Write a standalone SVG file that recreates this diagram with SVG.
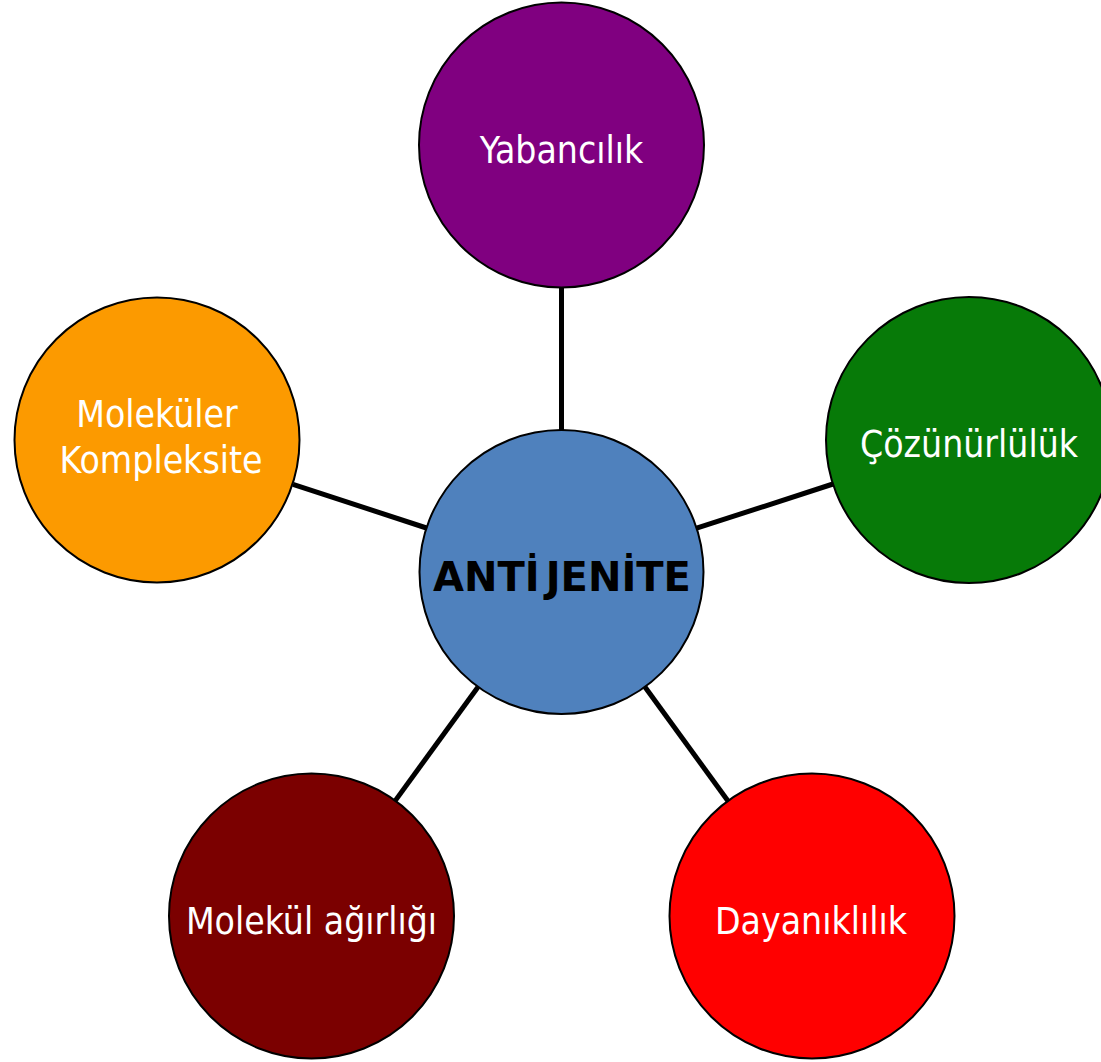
<svg xmlns="http://www.w3.org/2000/svg" width="1101" height="1062" viewBox="0 0 1101 1062">
  <style>
    .bubble { stroke: #000000; stroke-width: 2; }
    .label { fill: #ffffff; font-family: "DejaVu Sans Condensed", "DejaVu Sans", sans-serif; font-size: 37px; text-anchor: middle; }
    .hub { fill: #000000; font-family: "DejaVu Sans", Verdana, sans-serif; font-weight: bold; font-size: 40px; text-anchor: middle; }
    .link { stroke: #000000; stroke-width: 5; fill: none; }
  </style>
  <rect width="1101" height="1062" fill="#ffffff"/>

  <!-- spokes from the hub to each property -->
  <g id="connectors">
    <line class="link" x1="561.5" y1="430" x2="561.5" y2="287"/>
    <line class="link" x1="696.6" y1="528.2" x2="833" y2="484"/>
    <line class="link" x1="426.5" y1="528" x2="293" y2="484.3"/>
    <line class="link" x1="478" y1="687" x2="395.3" y2="800.6"/>
    <line class="link" x1="645" y1="687" x2="728" y2="801"/>
  </g>

  <g id="hub">
    <circle class="bubble" cx="561.5" cy="572" r="142" fill="#4F81BD"/>
    <text class="hub" x="562" y="591">ANTİ<tspan dx="6">JENİTE</tspan></text>
  </g>

  <g id="yabancilik">
    <circle class="bubble" cx="561.5" cy="145" r="142.5" fill="#800080"/>
    <text class="label" x="561.5" y="163">Yabancılık</text>
  </g>

  <g id="cozunurluluk">
    <circle class="bubble" cx="969" cy="440" r="143" fill="#077A08"/>
    <text class="label" x="969" y="457">Çözünürlülük</text>
  </g>

  <g id="molekuler-kompleksite">
    <circle class="bubble" cx="157" cy="440" r="142.5" fill="#FC9A00"/>
    <text class="label" x="157" y="427">Moleküler</text>
    <text class="label" x="161" y="473">Kompleksite</text>
  </g>

  <g id="molekul-agirligi">
    <circle class="bubble" cx="311.5" cy="916" r="142.5" fill="#7B0000"/>
    <text class="label" x="311.5" y="934">Molekül ağırlığı</text>
  </g>

  <g id="dayaniklilik">
    <circle class="bubble" cx="812" cy="916" r="142.5" fill="#FF0000"/>
    <text class="label" x="811" y="934">Dayanıklılık</text>
  </g>
</svg>
